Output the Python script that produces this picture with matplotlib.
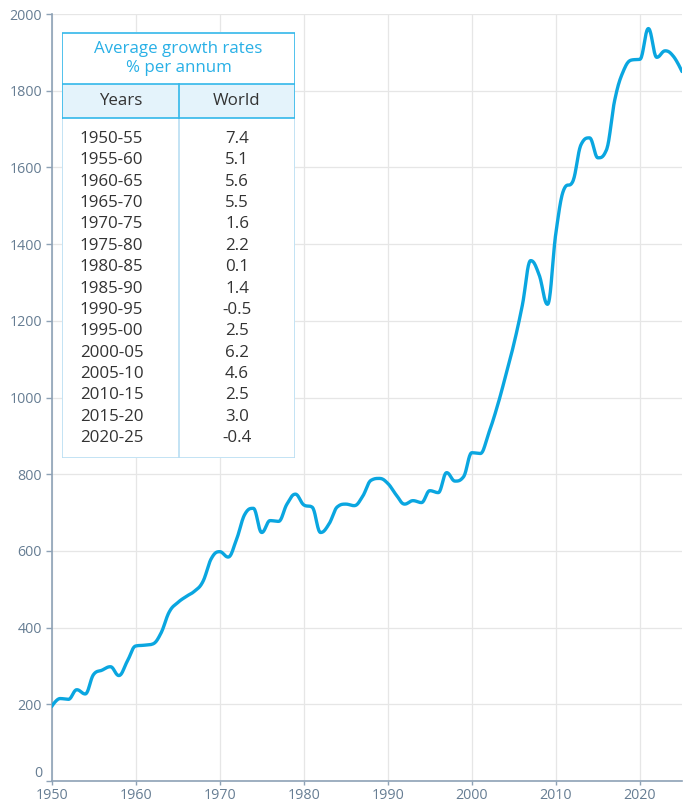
import numpy as np
import matplotlib
matplotlib.use("Agg")
from matplotlib import pyplot as plt
from matplotlib.patches import Rectangle

plt.rcParams['font.family'] = ['Open Sans', 'DejaVu Sans']

years = np.arange(1950, 2026)
values = np.array([
    194, 215, 213, 238, 227, 278, 289, 298, 275, 312,
    352, 354, 357, 385, 441, 465, 481, 495, 520, 580,
    598, 584, 630, 696, 711, 648, 679, 677, 722, 748,
    720, 714, 648, 670, 715, 722, 718, 742, 784, 789,
    776, 746, 722, 731, 726, 757, 752, 804, 782, 793,
    856, 854, 907, 975, 1055, 1140, 1240, 1357, 1320, 1243,
    1430, 1545, 1563, 1660, 1677, 1625, 1645, 1776, 1850, 1880,
    1882, 1962, 1887, 1904, 1889, 1850,
], dtype=float)

periods = ["1950-55", "1955-60", "1960-65", "1965-70", "1970-75", "1975-80",
           "1980-85", "1985-90", "1990-95", "1995-00", "2000-05", "2005-10",
           "2010-15", "2015-20", "2020-25"]
rates = ["7.4", "5.1", "5.6", "5.5", "1.6", "2.2", "0.1", "1.4", "-0.5",
         "2.5", "6.2", "4.6", "2.5", "3.0", "-0.4"]

LINE = '#0aa6e0'
AXIS = '#8ea2b6'
TICK = '#667d93'


def spline(x, y, smoothing=1.5, steps=20):
    # bezier spline, same idea as a highcharts "spline" series
    n = len(x)
    lc = np.zeros((n, 2))
    rc = np.zeros((n, 2))
    d = smoothing + 1
    for i in range(n):
        if i == 0 or i == n - 1:
            lc[i] = rc[i] = (x[i], y[i])
            continue
        lx = (smoothing * x[i] + x[i - 1]) / d
        ly = (smoothing * y[i] + y[i - 1]) / d
        rx = (smoothing * x[i] + x[i + 1]) / d
        ry = (smoothing * y[i] + y[i + 1]) / d
        corr = (ry - ly) * (rx - x[i]) / (rx - lx) + y[i] - ry
        ly += corr
        ry += corr
        if ly > y[i - 1] and ly > y[i]:
            ly = max(y[i - 1], y[i]); ry = 2 * y[i] - ly
        elif ly < y[i - 1] and ly < y[i]:
            ly = min(y[i - 1], y[i]); ry = 2 * y[i] - ly
        if ry > y[i + 1] and ry > y[i]:
            ry = max(y[i + 1], y[i]); ly = 2 * y[i] - ry
        elif ry < y[i + 1] and ry < y[i]:
            ry = min(y[i + 1], y[i]); ly = 2 * y[i] - ry
        lc[i] = (lx, ly)
        rc[i] = (rx, ry)
    t = np.linspace(0, 1, steps)[:, None]
    out = [np.array([[x[0], y[0]]])]
    for i in range(1, n):
        p0 = np.array([x[i - 1], y[i - 1]])
        p3 = np.array([x[i], y[i]])
        b = ((1 - t) ** 3 * p0 + 3 * (1 - t) ** 2 * t * rc[i - 1]
             + 3 * (1 - t) * t ** 2 * lc[i] + t ** 3 * p3)
        out.append(b[1:])
    pts = np.vstack(out)
    return pts[:, 0], pts[:, 1]


fig = plt.figure(figsize=(6.88, 8.02), dpi=100)
ax = fig.add_axes([51.6 / 688, 21 / 802, 630.4 / 688, 767 / 802])

sx, sy = spline(years.astype(float), values)
ax.plot(sx, sy, color=LINE, lw=2.4, solid_capstyle='round', zorder=3)

ax.set_xlim(1950, 2025)
ax.set_ylim(0, 2000)
ax.set_xticks(np.arange(1950, 2021, 10))
ax.set_yticks(np.arange(0, 2001, 200))
ax.grid(True, color='#e6e6e6', lw=0.9, zorder=0)
for s in ['top', 'right']:
    ax.spines[s].set_visible(False)
for s in ['left', 'bottom']:
    ax.spines[s].set_color(AXIS)
    ax.spines[s].set_linewidth(1.2)
ax.tick_params(axis='both', colors=AXIS, labelcolor=TICK, labelsize=10.3, length=4, width=1)
ax.tick_params(axis='x', pad=2, length=3)
ax.tick_params(axis='y', pad=3)
ax.get_yticklabels()[0].set_verticalalignment('bottom')

# growth rate table, drawn in pixel units
tx0, ty0, tw, th = 62, 32, 233, 426
tab = fig.add_axes([tx0 / 688, (802 - ty0 - th) / 802, tw / 688, th / 802])
tab.set_xlim(0, tw)
tab.set_ylim(th, 0)
tab.axis('off')

BRIGHT = '#33b8ea'
PALE = '#b9def2'
FS = 12.2
mid = 117
tab.add_patch(Rectangle((0, 0), tw, th, facecolor='white', edgecolor='none', zorder=1))
tab.add_patch(Rectangle((0, 52), tw, 34, facecolor='#e4f3fb', edgecolor='none', zorder=1))
# body borders
tab.plot([0.5, 0.5, tw - 0.5, tw - 0.5], [86, th - 0.5, th - 0.5, 86], color=PALE, lw=1.2, zorder=2)
tab.plot([mid, mid], [86, th], color=PALE, lw=1.2, zorder=2)
# title and header borders
tab.plot([0.5, 0.5, tw - 0.5, tw - 0.5, 0.5], [86, 0.5, 0.5, 86, 86], color=BRIGHT, lw=1.2, zorder=3)
tab.plot([0.5, tw - 0.5], [52, 52], color=BRIGHT, lw=1.2, zorder=3)
tab.plot([mid, mid], [52, 86], color=BRIGHT, lw=1.2, zorder=3)

tab.text(tw / 2, 17, "Average growth rates", ha='center', va='center', color='#29b0e6', fontsize=FS)
tab.text(tw / 2, 36, "% per annum", ha='center', va='center', color='#29b0e6', fontsize=FS)
tab.text(mid / 2, 69, "Years", ha='center', va='center', color='#333333', fontsize=FS)
tab.text((mid + tw) / 2, 69, "World", ha='center', va='center', color='#333333', fontsize=FS)
row_y = 107 + np.arange(len(periods)) * 21.36
for yy, p, r in zip(row_y, periods, rates):
    tab.text(49.5, yy, p, ha='center', va='center', color='#333333', fontsize=FS)
    tab.text(175, yy, r, ha='center', va='center', color='#333333', fontsize=FS)

fig.savefig('out.png', dpi=100)
